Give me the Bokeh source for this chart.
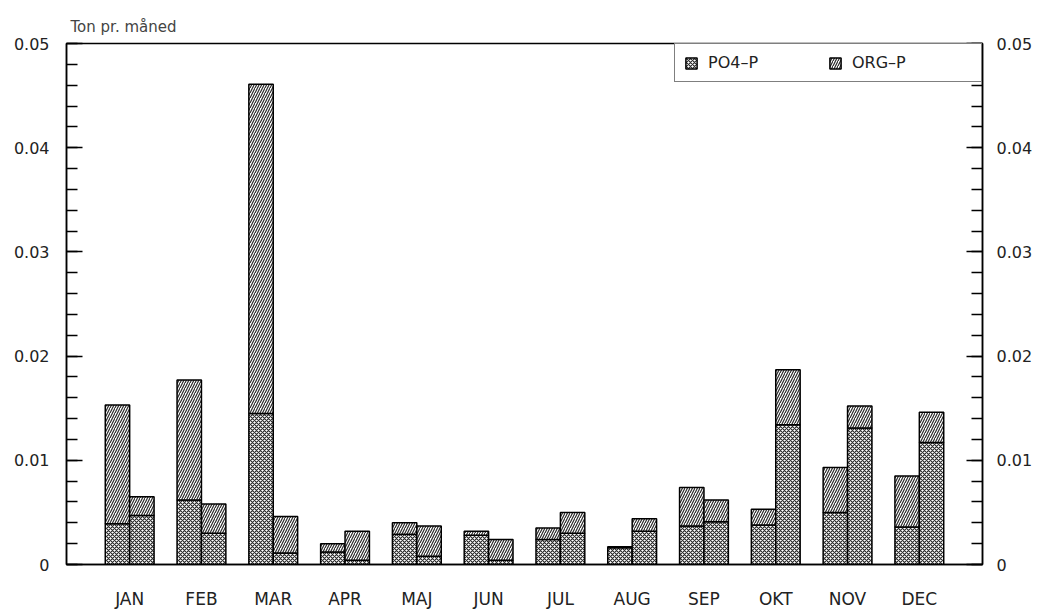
from bokeh.plotting import figure
from bokeh.models import (ColumnDataSource, FactorRange, Range1d, LinearAxis,
                          Legend, LegendItem, FixedTicker)
from bokeh.transform import dodge
from bokeh.embed import file_html
from bokeh.resources import INLINE

months = ["JAN", "FEB", "MAR", "APR", "MAJ", "JUN", "JUL", "AUG", "SEP", "OKT", "NOV", "DEC"]

# first bar of each month
po4_1 = [0.0039, 0.0062, 0.0145, 0.0012, 0.0029, 0.0028, 0.0024, 0.0016, 0.0037, 0.0038, 0.0050, 0.0036]
org_1 = [0.0114, 0.0115, 0.0316, 0.0008, 0.0011, 0.0004, 0.0011, 0.0001, 0.0037, 0.0015, 0.0043, 0.0049]
# second bar of each month
po4_2 = [0.0047, 0.0030, 0.0011, 0.0004, 0.0008, 0.0004, 0.0030, 0.0032, 0.0041, 0.0134, 0.0131, 0.0117]
org_2 = [0.0018, 0.0028, 0.0035, 0.0028, 0.0029, 0.0020, 0.0020, 0.0012, 0.0021, 0.0053, 0.0021, 0.0029]

y_ticks = [0, 0.01, 0.02, 0.03, 0.04, 0.05]
y_labels = ["0", "0.01", "0.02", "0.03", "0.04", "0.05"]

src = ColumnDataSource(dict(month=months, po4_1=po4_1, org_1=org_1, po4_2=po4_2, org_2=org_2))

FONT = "DejaVu Sans"

p = figure(x_range=FactorRange(*months, range_padding=0.38, range_padding_units="absolute"),
           y_range=Range1d(0, 0.05),
           frame_width=916, frame_height=521, output_backend="svg", toolbar_location=None,
           min_border_left=5, min_border_right=5, min_border_top=5, min_border_bottom=5,
           y_axis_location=None, title="Ton pr. måned")
p.margin = (8, 0, 0, 10)

p.title.text_font = FONT
p.title.text_font_size = "15px"
p.title.text_font_style = "normal"
p.title.align = "left"
p.title.offset = 4
p.title.standoff = 15

p.background_fill_color = "white"
p.border_fill_color = "white"
p.outline_line_color = "black"
p.outline_line_width = 1.5
p.xgrid.visible = False
p.ygrid.visible = False

ticker = FixedTicker(ticks=y_ticks, minor_ticks=[i * 0.002 for i in range(26)])
overrides = {t: l for t, l in zip(y_ticks, y_labels)}
for side in ("left", "right"):
    ax = LinearAxis(ticker=ticker, major_label_overrides=overrides)
    ax.axis_line_color = "black"
    ax.axis_line_width = 1.5
    ax.major_tick_in = 16
    ax.major_tick_out = 0
    ax.minor_tick_in = 11
    ax.minor_tick_out = 0
    ax.major_tick_line_width = 1.5
    ax.minor_tick_line_width = 1.5
    ax.major_label_text_font = FONT
    ax.major_label_text_font_size = "16px"
    ax.major_label_text_color = "#222222"
    ax.major_label_standoff = 17 if side == "left" else 14
    p.add_layout(ax, side)

xa = p.xaxis[0]
xa.major_tick_line_color = None
xa.minor_tick_line_color = None
xa.axis_line_color = "black"
xa.axis_line_width = 1.5
xa.major_label_text_font = FONT
xa.major_label_text_font_size = "17px"
xa.major_label_text_color = "#222222"
xa.major_label_standoff = 18

common = dict(width=0.34, line_color="black", line_width=1.5, fill_color="white",
              hatch_color="#2a2a2a", hatch_pattern=["x", "/"], hatch_scale=[4, 5],
              hatch_weight=[1.2, 1.2])

r1 = p.vbar_stack(["po4_1", "org_1"], x=dodge("month", -0.17, range=p.x_range), source=src, **common)
r2 = p.vbar_stack(["po4_2", "org_2"], x=dodge("month", 0.17, range=p.x_range), source=src, **common)

legend = Legend(items=[LegendItem(label="PO4–P", renderers=[r1[0]]),
                       LegendItem(label="ORG–P", renderers=[r1[1]])],
                orientation="horizontal", location="top_right", margin=0, padding=9,
                spacing=0, glyph_width=14, glyph_height=14, label_standoff=10, label_width=120,
                label_text_font=FONT, label_text_font_size="16px", label_text_color="#222222",
                border_line_color="black", border_line_width=1.5, background_fill_alpha=1)
p.add_layout(legend, "center")

open("out.html", "w").write(file_html(p, INLINE))
